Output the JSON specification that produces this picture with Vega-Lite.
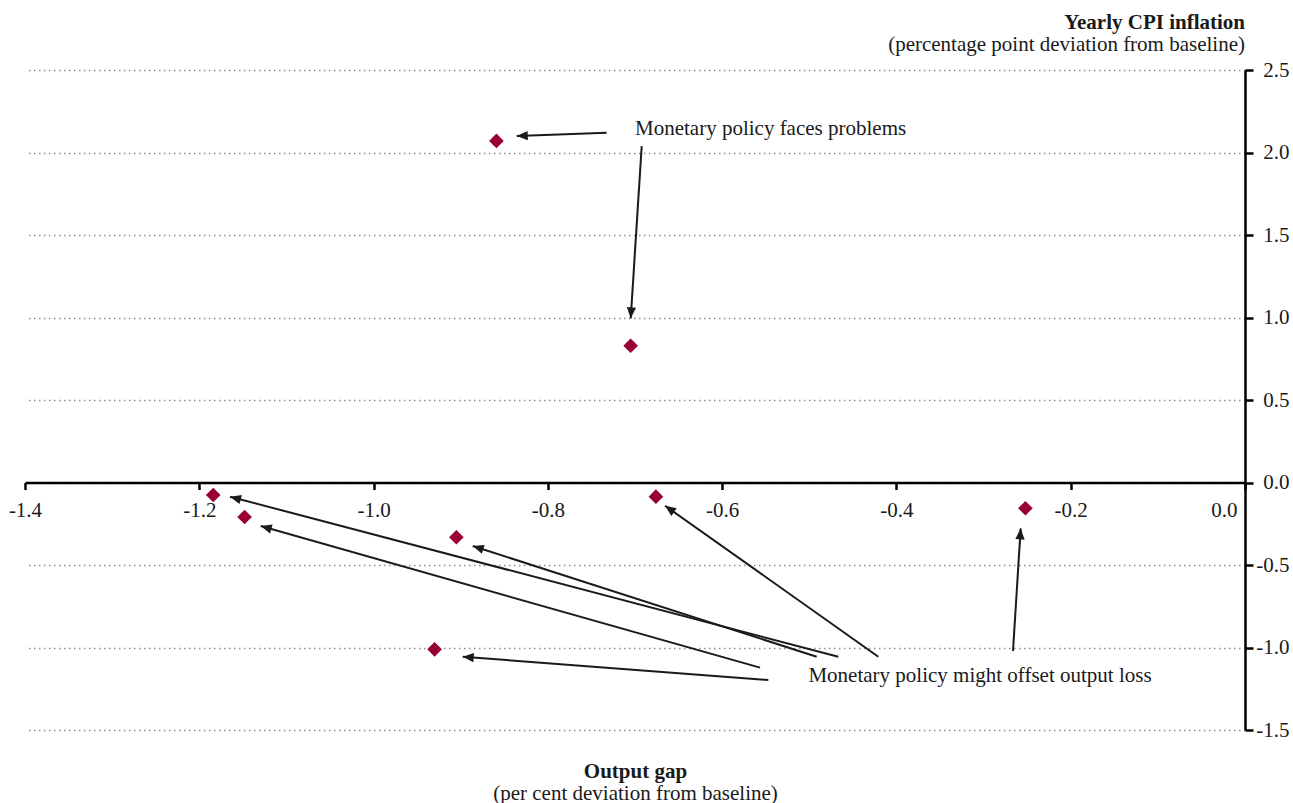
{
  "$schema": "https://vega.github.io/schema/vega-lite/v6.json",
  "width": 1220,
  "height": 660,
  "autosize": {"type": "none"},
  "padding": {"left": 25, "top": 70, "right": 48, "bottom": 73},
  "background": "white",
  "title": {
    "text": "Yearly CPI inflation",
    "subtitle": "(percentage point deviation from baseline)",
    "anchor": "end",
    "frame": "group",
    "font": "Liberation Serif",
    "fontSize": 21,
    "fontWeight": "bold",
    "color": "#1a1a1a",
    "subtitleFont": "Liberation Serif",
    "subtitleFontSize": 21,
    "subtitleColor": "#1a1a1a",
    "subtitlePadding": 1,
    "offset": 4
  },
  "config": {
    "view": {"stroke": null},
    "locale": {"number": {"decimal": ".", "thousands": ",", "grouping": [3], "currency": ["$", ""], "minus": "-"}},
    "axis": {"labelFont": "Liberation Serif", "titleFont": "Liberation Serif", "labelColor": "#1a1a1a", "titleColor": "#1a1a1a"}
  },
  "datasets": {
    "points": [
      {"x": -0.859, "y": 2.070},
      {"x": -0.705, "y": 0.829},
      {"x": -1.184, "y": -0.076},
      {"x": -1.148, "y": -0.209},
      {"x": -0.905, "y": -0.332},
      {"x": -0.930, "y": -1.011},
      {"x": -0.676, "y": -0.086},
      {"x": -0.252, "y": -0.156}
    ],
    "arrows": [
      {"fromX": -0.7325, "fromY": 2.120, "toX": -0.8357, "toY": 2.100},
      {"fromX": -0.6923, "fromY": 2.039, "toX": -0.7049, "toY": 0.995},
      {"fromX": -0.4667, "fromY": -1.056, "toX": -1.1647, "toY": -0.086},
      {"fromX": -0.5565, "fromY": -1.122, "toX": -1.1295, "toY": -0.264},
      {"fromX": -0.4915, "fromY": -1.056, "toX": -0.8862, "toY": -0.385},
      {"fromX": -0.5470, "fromY": -1.197, "toX": -0.8977, "toY": -1.056},
      {"fromX": -0.4208, "fromY": -1.056, "toX": -0.6655, "toY": -0.141},
      {"fromX": -0.2662, "fromY": -1.021, "toX": -0.2574, "toY": -0.278}
    ],
    "notes": [
      {"x": -0.700, "y": 2.106, "label": "Monetary policy faces problems"},
      {"x": -0.501, "y": -1.207, "label": "Monetary policy might offset output loss"}
    ]
  },
  "layer": [
    {
      "data": {"name": "points"},
      "mark": {"type": "point", "shape": "diamond", "filled": true, "size": 215, "color": "#990033", "opacity": 1},
      "encoding": {
        "x": {
          "field": "x", "type": "quantitative",
          "scale": {"domain": [-1.4, 0], "nice": false, "zero": false},
          "axis": {
            "orient": "bottom", "offset": -247.5,
            "values": [-1.4, -1.2, -1.0, -0.8, -0.6, -0.4, -0.2, 0],
            "format": ".1f", "title": null, "grid": false,
            "domainColor": "#000", "domainWidth": 2.5,
            "tickColor": "#000", "tickWidth": 2.5, "tickSize": 7,
            "labelFontSize": 21, "labelPadding": 10, "labelFlush": false, "labelOverlap": false,
            "labelAlign": {"condition": {"test": "datum.value === 0", "value": "right"}, "value": "center"},
            "labelOffset": {"condition": {"test": "datum.value === 0", "value": -8}, "value": 0}
          }
        },
        "y": {
          "field": "y", "type": "quantitative",
          "scale": {"domain": [-1.5, 2.5], "nice": false, "zero": false},
          "axis": {
            "orient": "right",
            "values": [-1.5, -1.0, -0.5, 0, 0.5, 1.0, 1.5, 2.0, 2.5],
            "format": ".1f", "title": null,
            "grid": true, "gridColor": "#8c8c8c", "gridDash": [1.5, 3.5], "gridWidth": 1.3,
            "domain": true, "domainColor": "#000", "domainWidth": 2.5,
            "ticks": true, "tickColor": "#000", "tickWidth": 2.5, "tickSize": 8,
            "labels": true, "labelFontSize": 21, "labelAlign": "right", "labelPadding": 36, "labelOverlap": false
          }
        }
      }
    },
    {
      "data": {"name": "arrows"},
      "mark": {"type": "rule", "color": "#1a1a1a", "strokeWidth": 2},
      "encoding": {
        "x": {
          "field": "fromX", "type": "quantitative",
          "scale": {"domain": [-1.4, 0], "nice": false, "zero": false},
          "axis": {
            "orient": "bottom", "title": "Output gap", "titleFontWeight": "bold", "titleFontSize": 21,
            "labels": false, "ticks": false, "domain": false, "grid": false, "titlePadding": 30
          }
        },
        "x2": {"field": "toX"},
        "y": {
          "field": "fromY", "type": "quantitative",
          "scale": {"domain": [-1.5, 2.5], "nice": false, "zero": false},
          "axis": null
        },
        "y2": {"field": "toY"}
      }
    },
    {
      "data": {"name": "arrows"},
      "mark": {
        "type": "point", "shape": "M0,0L0.42,1L-0.42,1Z", "filled": true, "size": 484,
        "color": "#1a1a1a", "opacity": 1,
        "angle": {"expr": "atan2(scale('x', datum.toX) - scale('x', datum.fromX), scale('y', datum.fromY) - scale('y', datum.toY)) * 180 / PI"}
      },
      "encoding": {
        "x": {
          "field": "toX", "type": "quantitative",
          "scale": {"domain": [-1.4, 0], "nice": false, "zero": false},
          "axis": null
        },
        "y": {
          "field": "toY", "type": "quantitative",
          "scale": {"domain": [-1.5, 2.5], "nice": false, "zero": false},
          "axis": null
        }
      }
    },
    {
      "data": {"name": "notes"},
      "mark": {"type": "text", "align": "left", "baseline": "alphabetic", "font": "Liberation Serif", "fontSize": 21, "color": "#1a1a1a"},
      "encoding": {
        "x": {
          "field": "x", "type": "quantitative",
          "scale": {"domain": [-1.4, 0], "nice": false, "zero": false},
          "axis": {
            "orient": "bottom", "title": "(per cent deviation from baseline)", "titleFontWeight": "normal", "titleFontSize": 21,
            "labels": false, "ticks": false, "domain": false, "grid": false, "titlePadding": 52
          }
        },
        "y": {
          "field": "y", "type": "quantitative",
          "scale": {"domain": [-1.5, 2.5], "nice": false, "zero": false},
          "axis": null
        },
        "text": {"field": "label"}
      }
    }
  ],
  "resolve": {"axis": {"x": "independent", "y": "independent"}}
}
